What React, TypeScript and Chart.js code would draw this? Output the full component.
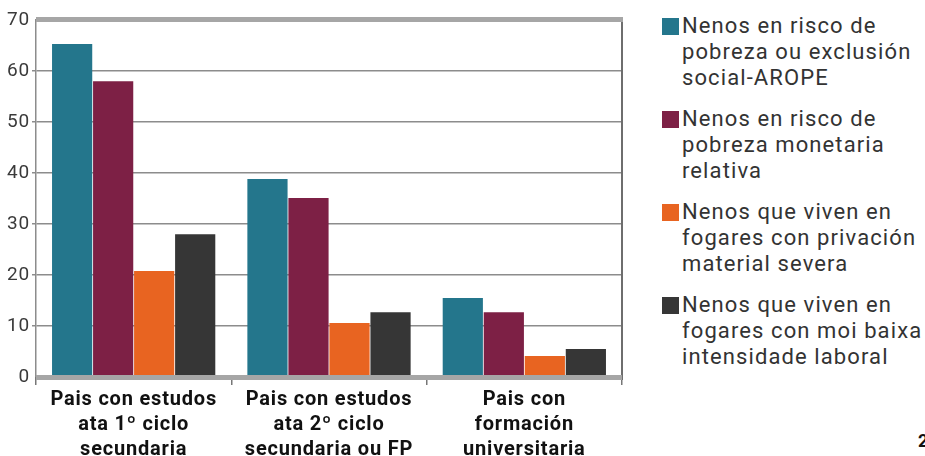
import React, { useEffect, useRef } from "react";
import { Chart, registerables } from "chart.js";

Chart.register(...registerables);

const categories: string[][] = [
  ["Pais con estudos", "ata 1º ciclo", "secundaria"],
  ["Pais con estudos", "ata 2º ciclo", "secundaria ou FP"],
  ["Pais con", "formación", "universitaria"],
];

const seriesNames: string[][] = [
  ["Nenos en risco de", "pobreza ou exclusión", "social-AROPE"],
  ["Nenos en risco de", "pobreza monetaria", "relativa"],
  ["Nenos que viven en", "fogares con privación", "material severa"],
  ["Nenos que viven en", "fogares con moi baixa", "intensidade laboral"],
];

const aropeValues = [65.3, 38.8, 15.5];
const monetariaValues = [58.0, 35.1, 12.7];
const privacionValues = [20.8, 10.6, 4.1];
const intensidadeValues = [28.0, 12.7, 5.5];

const seriesColors = ["#24768c", "#7d2045", "#e86421", "#363636"];

const yTicks = [0, 10, 20, 30, 40, 50, 60, 70];

export default function App() {
  const canvasRef = useRef<HTMLCanvasElement | null>(null);

  useEffect(() => {
    document.body.style.margin = "0";
    const canvas = canvasRef.current;
    if (!canvas) return;

    const framePlugin = {
      id: "frame",
      beforeDraw(chart: any) {
        try {
          chart.ctx.letterSpacing = "0.8px";
        } catch (e) {}
      },
      afterDraw(chart: any) {
        const { ctx, chartArea } = chart;
        ctx.save();
        ctx.strokeStyle = "#6e6e6e";
        ctx.lineWidth = 2;
        ctx.beginPath();
        ctx.moveTo(chartArea.right, chartArea.top);
        ctx.lineTo(chartArea.right, chartArea.bottom + 3);
        ctx.stroke();
        ctx.strokeStyle = "#a6a6a6";
        ctx.lineWidth = 5;
        ctx.beginPath();
        ctx.moveTo(chartArea.left, chartArea.top - 0.5);
        ctx.lineTo(chartArea.right + 1, chartArea.top - 0.5);
        ctx.stroke();
        ctx.beginPath();
        ctx.moveTo(chartArea.left, chartArea.bottom + 0.5);
        ctx.lineTo(chartArea.right, chartArea.bottom + 0.5);
        ctx.stroke();
        ctx.restore();
      },
    };

    const chart = new Chart(canvas, {
      type: "bar",
      data: {
        labels: categories,
        datasets: [
          { label: seriesNames[0].join(" "), data: aropeValues, backgroundColor: seriesColors[0] },
          { label: seriesNames[1].join(" "), data: monetariaValues, backgroundColor: seriesColors[1] },
          { label: seriesNames[2].join(" "), data: privacionValues, backgroundColor: seriesColors[2] },
          { label: seriesNames[3].join(" "), data: intensidadeValues, backgroundColor: seriesColors[3] },
        ],
      },
      options: {
        animation: false,
        responsive: false,
        devicePixelRatio: 1,
        layout: { padding: { top: 20, right: 18, left: 0, bottom: 0 } },
        datasets: {
          bar: {
            categoryPercentage: 0.84,
            barPercentage: 0.98,
            borderWidth: 0,
          },
        },
        plugins: {
          legend: { display: false },
          tooltip: { enabled: false },
        },
        scales: {
          x: {
            grid: {
              display: true,
              drawOnChartArea: false,
              drawTicks: true,
              tickLength: 8,
              color: "#777777",
              lineWidth: 1.5,
              offset: true,
            },
            border: { display: false },
            ticks: {
              color: "#111111",
              font: { family: "Roboto", size: 20, weight: "bold", lineHeight: 1.24 },
              padding: 3,
              maxRotation: 0,
              autoSkip: false,
            },
            afterFit(scale: any) {
              scale.height = 79;
            },
          },
          y: {
            min: 0,
            max: 70,
            afterBuildTicks(scale: any) {
              scale.ticks = yTicks.map((v) => ({ value: v }));
            },
            grid: {
              color: "#8c8c8c",
              lineWidth: (c: any) => (c.tick && (c.tick.value === 0 || c.tick.value === 70) ? 0 : 1.5),
              drawTicks: true,
              tickLength: 4,
            },
            border: { display: true, color: "#8c8c8c", width: 1.5 },
            ticks: {
              color: "#3a3a3a",
              font: { family: "Roboto", size: 19 },
              padding: 2,
            },
            afterFit(scale: any) {
              scale.width = 36;
            },
          },
        },
      },
      plugins: [framePlugin],
    });

    return () => {
      chart.destroy();
    };
  }, []);

  return (
    <div style={{ position: "relative", width: 925, height: 456, background: "#ffffff", overflow: "hidden" }}>
      <canvas ref={canvasRef} width={640} height={456} style={{ position: "absolute", left: 0, top: 0, width: 640, height: 456 }} />
      <div style={{ position: "absolute", left: 662, top: 13, fontFamily: "Roboto", fontSize: 22, color: "#333333", lineHeight: "26px", letterSpacing: "1.1px" }}>
        {seriesNames.map((lines, i) => (
          <div key={i} style={{ position: "relative", paddingLeft: 20, marginBottom: 15 }}>
            <span style={{ position: "absolute", left: 0, top: 5, width: 17, height: 17, background: seriesColors[i] }} />
            {lines.map((l, j) => (
              <div key={j} style={{ whiteSpace: "nowrap" }}>{l}</div>
            ))}
          </div>
        ))}
      </div>
      <div style={{ position: "absolute", left: 918, top: 430, fontFamily: "Roboto", fontSize: 18, fontWeight: "bold", color: "#111" }}>2</div>
    </div>
  );
}
